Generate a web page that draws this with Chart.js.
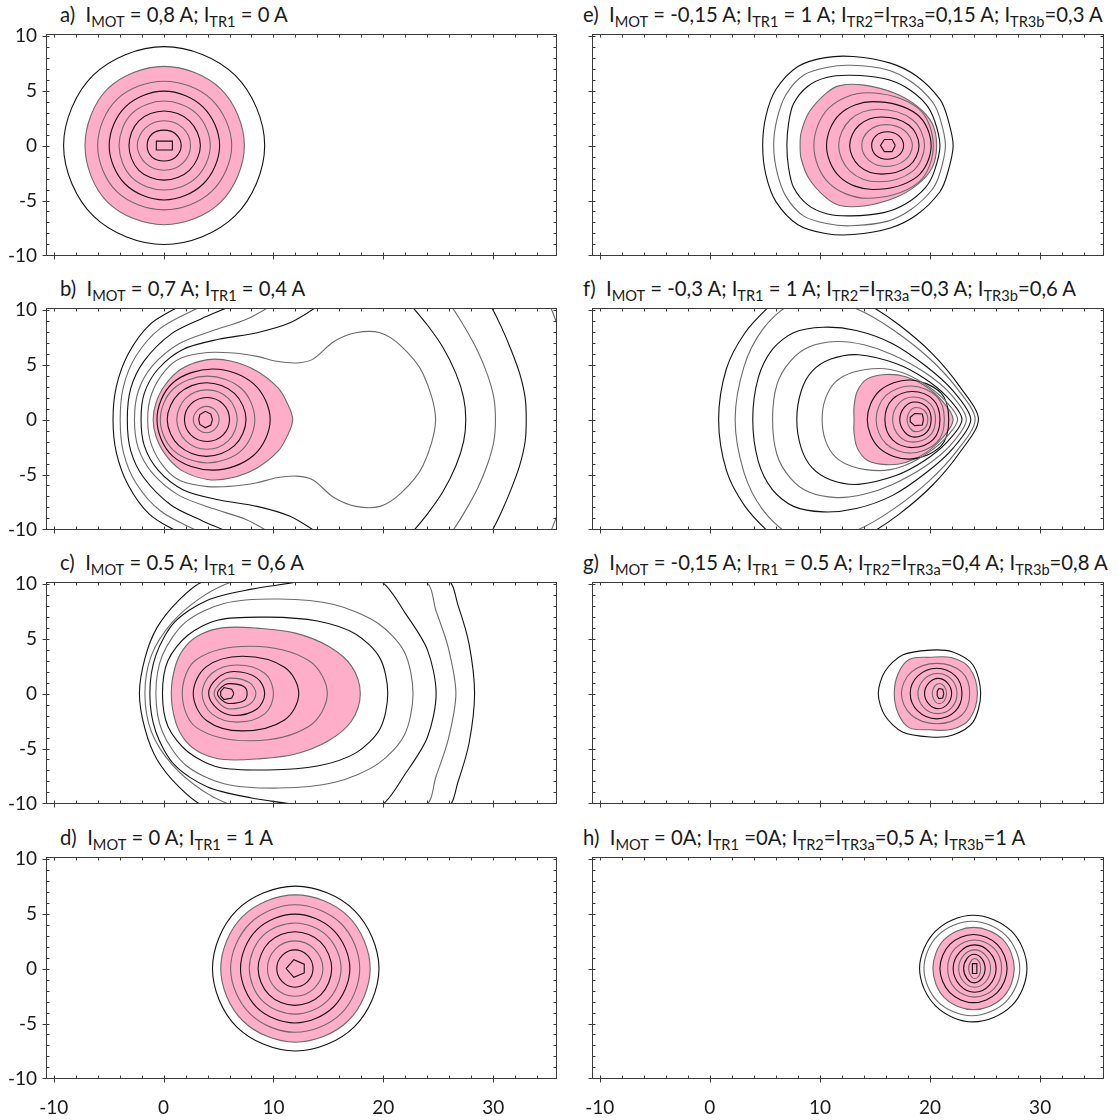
<!DOCTYPE html>
<html>
<head>
<meta charset="utf-8">
<script src="https://cdn.jsdelivr.net/npm/chart.js@4.4.0/dist/chart.umd.min.js"></script>
<style>
    body { margin: 0; background: #fff; width: 1119px; height: 1120px; position: relative; overflow: hidden; font-family: Lato, sans-serif; }
    .title { position: absolute; font-size: 20.3px; line-height: 24px; white-space: nowrap; color: #1a1a1a; }
    .title sub { font-size: 0.72em; vertical-align: -0.32em; line-height: 0; }
    canvas { position: absolute; }
</style>
</head>
<body>
<div id="page"></div>
<script>
// axis ticks
const xRange = [-10.7, 35.8];
const yRange = [-10.05, 10.15];
const xTickValues = [-10, 0, 10, 20, 30];
const yTickValues = [-10, -5, 0, 5, 10];
const xMinorTicks = [-10, -8, -6, -4, -2, 0, 2, 4, 6, 8, 10, 12, 14, 16, 18, 20, 22, 24, 26, 28, 30, 32, 34];
const yMinorTicks = [-10, -9, -8, -7, -6, -5, -4, -3, -2, -1, 0, 1, 2, 3, 4, 5, 6, 7, 8, 9, 10];

// contours: upper half (y >= 0) of each level line, mirrored about y = 0
// a) I_MOT = 0,8 A
const aPink = [[7.35,0],[5.2,5.15],[0.05,7.2],[-5.1,5.15],[-7.15,0]];
const aLines = [
    [[9.2,0],[6.5,6.4],[0.05,9.0],[-6.4,6.4],[-9.1,0]],
    [[6.2,0],[4.35,4.2],[0.05,5.85],[-4.25,4.2],[-6.0,0]],
    [[5.1,0],[3.6,3.5],[0.05,4.95],[-3.5,3.5],[-4.95,0]],
    [[4.25,0],[3.0,2.9],[0.05,4.05],[-2.9,2.9],[-4.05,0]],
    [[3.35,0],[2.35,2.25],[0.05,3.15],[-2.25,2.25],[-3.15,0]],
    [[2.45,0],[1.75,1.6],[0.05,2.25],[-1.65,1.6],[-2.4,0]],
    [[1.6,0],[1.1,1.05],[0.05,1.4],[-1.05,1.05],[-1.5,0]]
];
const aCore = [[0.8,0],[0.8,0.4],[-0.66,0.4],[-0.66,0]];

// b) I_MOT = 0,7 A; I_TR1 = 0,4 A
const bPink = [[11.75,0],[11.2,1.6],[10.4,2.9],[8.5,4.4],[6.2,5.3],[4.0,5.45],[1.6,4.6],[0.1,3.1],[-0.7,1.5],[-0.95,0]];
const bLines = [
    [[-4.6,0],[-4.3,3.0],[-3.2,6.0],[-1.3,8.6],[1.4,10.3],[3.0,11.3]],
    [[-3.95,0],[-3.65,3.0],[-2.5,5.8],[-0.3,8.3],[3.4,10.3],[5.0,11.2]],
    [[-3.3,0],[-3.0,2.8],[-1.8,5.3],[0.7,7.8],[3.5,9.2],[6.0,10.3],[7.5,11.2]],
    [[-2.65,0],[-2.3,2.6],[-1.0,4.9],[1.4,6.9],[4.5,8.1],[7.5,9.1],[9.7,10.3],[11.0,11.2]],
    [[-2.05,0],[-1.75,2.4],[-0.5,4.6],[1.8,6.4],[5.0,7.3],[8.5,7.9],[11.5,8.8],[14.0,10.3],[15.5,11.5]],
    [[24.75,0],[23.6,4.2],[21.6,6.7],[19.7,7.9],[17.5,7.9],[15.5,7.1],[13.6,5.5],[12.1,5.15],[10.3,5.3],[8.5,5.75],[6.4,6.05],[4.0,6.1],[1.6,5.6],[0.1,4.4],[-1.1,2.3],[-1.45,0]],
    [[27.5,0],[27.3,2.0],[26.6,4.2],[25.4,6.6],[24.0,8.6],[22.6,10.3],[21.8,11.2]],
    [[30.2,0],[30.05,2.0],[29.5,4.0],[28.6,6.2],[27.4,8.4],[26.2,10.3],[25.5,11.2]],
    [[33.0,0],[32.9,2.0],[32.4,4.2],[31.6,6.4],[30.7,8.5],[29.8,10.3],[29.2,11.2]],
    [[37.2,0],[37.0,4.0],[36.2,7.5],[35.2,10.3],[34.7,11.5]],
    [[9.7,0],[8.2,3.25],[4.5,4.6],[0.8,3.3],[-0.6,0]],
    [[8.3,0],[7.1,2.8],[4.0,3.95],[0.9,2.8],[-0.3,0]],
    [[7.5,0],[6.45,2.38],[3.9,3.35],[1.4,2.38],[0.33,0]],
    [[6.7,0],[5.9,1.92],[3.95,2.7],[2.0,1.92],[1.2,0]],
    [[6.0,0],[5.4,1.42],[3.95,2.0],[2.5,1.42],[1.9,0]],
    [[5.05,0],[4.7,0.85],[3.9,1.2],[3.1,0.85],[2.7,0]]
];
const bCore = [[4.45,0],[4.3,0.5],[3.8,0.75],[3.3,0.45],[3.2,0]];

// c) I_MOT = 0.5 A; I_TR1 = 0,6 A
const cPink = [[17.9,0],[17.1,2.5],[15.0,4.3],[12.0,5.5],[8.5,5.95],[5.5,6.0],[3.4,5.4],[2.0,4.3],[1.1,2.6],[0.7,0]];
const cLines = [
    [[28.3,0],[27.8,4.5],[26.8,8.0],[25.8,10.4],[15.0,14.0],[3.6,10.2],[1.4,8.5],[-0.6,6.0],[-1.7,3.2],[-2.2,0]],
    [[26.6,0],[25.9,4.2],[24.8,7.5],[23.8,10.2],[14.0,12.5],[6.3,10.2],[3.5,8.8],[0.8,6.5],[-1.1,3.5],[-1.7,0]],
    [[24.8,0],[24.0,4.0],[22.0,7.3],[19.8,10.2],[16.0,11.2],[12.4,10.2],[8.0,9.5],[4.0,8.5],[1.0,6.5],[-0.7,3.5],[-1.25,0]],
    [[22.7,0],[21.9,3.8],[19.5,6.4],[15.5,8.1],[10.5,8.6],[5.5,8.2],[2.0,6.5],[-0.1,3.5],[-0.7,0]],
    [[20.4,0],[19.7,3.2],[17.5,5.4],[14.0,6.6],[9.5,6.95],[5.0,6.7],[2.2,5.3],[0.4,3.0],[-0.1,0]],
    [[14.9,0],[13.2,3.0],[8.0,4.3],[3.0,3.1],[1.7,0]],
    [[12.3,0],[11.0,2.4],[7.2,3.4],[3.9,2.45],[2.7,0]],
    [[10.0,0],[9.2,1.85],[6.7,2.6],[4.4,1.85],[3.5,0]],
    [[9.2,0],[8.5,1.4],[6.4,2.0],[4.9,1.4],[4.1,0]],
    [[8.4,0],[7.8,1.0],[6.1,1.4],[5.2,1.0],[4.6,0]],
    [[7.6,0],[7.3,0.65],[5.9,0.9],[5.3,0.6],[4.9,0]]
];
const cCore = [[6.4,0],[6.2,0.4],[5.5,0.55],[5.2,0.2],[5.2,0]];

// d) I_MOT = 0 A; I_TR1 = 1 A
const dPink = [[18.8,0],[16.8,4.75],[12.0,6.7],[7.2,4.75],[5.2,0]];
const dLines = [
    [[19.6,0],[17.35,5.3],[12.0,7.5],[6.65,5.3],[4.45,0]],
    [[17.85,0],[16.15,4.1],[11.95,5.8],[7.85,4.1],[6.1,0]],
    [[16.95,0],[15.45,3.5],[11.95,4.95],[8.45,3.5],[7.0,0]],
    [[16.15,0],[14.9,2.95],[11.95,4.15],[9.0,2.95],[7.8,0]],
    [[15.3,0],[14.3,2.4],[11.95,3.35],[9.6,2.4],[8.6,0]],
    [[14.5,0],[13.7,1.8],[11.95,2.52],[10.2,1.8],[9.45,0]],
    [[13.6,0],[13.1,1.2],[11.95,1.7],[10.8,1.2],[10.3,0]]
];
const dCore = [[12.8,0],[12.8,0.4],[11.85,0.8],[11.15,0]];

// e) I_MOT = -0,15 A; I_TR1 = 1 A; ...
const ePink = [[20.6,0],[20.2,2.0],[18.8,3.6],[16.7,4.8],[14.0,5.5],[11.8,5.45],[10.5,4.7],[9.0,3.0],[8.3,1.2],[8.2,0]];
const eLines = [
    [[22.1,0],[21.6,2.5],[20.9,4.2],[18.8,6.3],[16.4,7.5],[13.0,8.1],[10.5,8.0],[8.0,7.2],[6.0,5.1],[5.1,2.7],[4.8,0]],
    [[21.4,0],[20.9,2.5],[20.2,4.0],[18.3,5.8],[16.1,6.9],[12.8,7.3],[10.6,7.1],[8.5,6.4],[6.9,4.6],[6.1,2.4],[5.8,0]],
    [[20.9,0],[20.4,2.3],[19.6,3.8],[17.8,5.3],[15.8,6.1],[12.8,6.4],[10.6,6.2],[8.9,5.4],[7.6,3.8],[7.15,2.0],[7.0,0]],
    [[20.3,0],[18.9,3.4],[14.3,4.8],[10.8,3.4],[9.45,0]],
    [[20.1,0],[18.8,2.85],[14.8,4.0],[11.8,2.85],[10.6,0]],
    [[19.5,0],[18.4,2.35],[15.3,3.3],[12.75,2.35],[11.7,0]],
    [[19.0,0],[18.1,1.85],[15.6,2.6],[13.55,1.85],[12.7,0]],
    [[18.4,0],[17.7,1.35],[16.0,1.9],[14.45,1.35],[13.8,0]],
    [[17.6,0],[17.15,0.9],[16.1,1.25],[15.1,0.9],[14.7,0]]
];
const eCore = [[16.85,0],[16.55,0.55],[15.85,0.55],[15.5,0]];

// f) I_MOT = -0,3 A; I_TR1 = 1 A; ...
const fPink = [[22.1,0],[21.1,1.7],[19.5,3.1],[17.8,3.9],[16.0,4.1],[14.3,3.7],[13.4,2.6],[13.1,1.2],[13.1,0]];
const fLines = [
    [[24.4,0],[22.7,3.0],[20.2,6.0],[17.2,8.6],[14.2,10.6],[11.0,12.2],[7.5,12.0],[5.5,10.4],[3.2,7.9],[1.5,4.6],[0.8,0]],
    [[24.1,0],[22.4,2.9],[19.9,5.6],[16.6,8.2],[13.5,10.0],[10.0,10.9],[7.2,10.4],[4.8,8.2],[3.1,4.8],[2.3,0]],
    [[23.7,0],[22.1,2.6],[19.7,4.8],[16.6,6.9],[13.3,8.1],[10.3,8.4],[7.6,7.9],[5.7,6.4],[4.4,3.8],[3.9,0]],
    [[23.3,0],[21.8,2.4],[19.5,4.3],[16.6,5.9],[14.0,6.8],[11.5,7.1],[9.0,6.6],[7.3,5.3],[6.1,3.2],[5.7,0]],
    [[22.9,0],[21.5,2.1],[19.4,3.8],[16.9,5.1],[13.5,5.9],[11.0,5.5],[9.3,4.4],[8.3,2.6],[7.9,0]],
    [[22.5,0],[21.3,1.8],[19.4,3.3],[17.4,4.3],[15.4,4.65],[13.0,4.3],[11.4,3.4],[10.5,1.9],[10.2,0]],
    [[21.7,0],[21.0,2.4],[18.2,3.6],[15.4,2.6],[14.3,0]],
    [[21.3,0],[20.6,2.1],[18.3,3.05],[16.0,2.2],[15.1,0]],
    [[20.9,0],[20.3,1.8],[18.4,2.55],[16.6,1.85],[15.9,0]],
    [[20.5,0],[20.0,1.45],[18.5,2.05],[17.2,1.5],[16.6,0]],
    [[20.1,0],[19.7,1.15],[18.6,1.6],[17.7,1.15],[17.25,0]],
    [[19.8,0],[19.5,0.8],[18.7,1.1],[18.2,0.8],[17.9,0]]
];
const fCore = [[19.4,0],[19.3,0.5],[18.6,0.55],[18.2,0.2],[18.2,0]];

// g) I_MOT = -0,15 A; I_TR1 = 0.5 A; ...
const gPink = [[24.3,0],[23.6,2.3],[22.0,3.25],[20.0,3.3],[18.1,3.1],[17.1,1.8],[16.75,0]];
const gLines = [
    [[24.6,0],[23.9,2.6],[22.0,3.8],[20.0,3.95],[17.5,3.5],[15.9,2.0],[15.3,0]],
    [[23.6,0],[22.9,1.95],[20.6,2.75],[18.3,1.95],[17.4,0]],
    [[22.9,0],[22.3,1.6],[20.6,2.3],[18.9,1.6],[18.2,0]],
    [[22.45,0],[21.95,1.3],[20.7,1.83],[19.45,1.3],[18.9,0]],
    [[21.96,0],[21.6,0.95],[20.75,1.38],[19.9,0.97],[19.5,0]],
    [[21.5,0],[21.3,0.65],[20.85,0.92],[20.4,0.65],[20.2,0]]
];
const gCore = [[21.25,0],[21.15,0.4],[20.8,0.46],[20.65,0.2],[20.65,0]];

// h) I_MOT = 0A; I_TR1 = 0A; ...
const hPink = [[27.65,0],[26.6,2.65],[23.95,3.75],[21.3,2.65],[20.26,0]];
const hLines = [
    [[28.8,0],[27.4,3.4],[23.9,4.85],[20.5,3.4],[19.05,0]],
    [[28.15,0],[26.9,3.0],[23.8,4.3],[20.7,3.0],[19.45,0]],
    [[27.0,0],[26.1,2.2],[23.95,3.1],[21.8,2.2],[20.9,0]],
    [[26.5,0],[25.8,1.85],[24.05,2.6],[22.3,1.85],[21.6,0]],
    [[26.0,0],[25.4,1.5],[24.05,2.15],[22.7,1.5],[22.1,0]],
    [[25.5,0],[25.05,1.2],[24.05,1.7],[23.05,1.2],[22.6,0]],
    [[25.0,0],[24.7,0.9],[24.0,1.3],[23.35,0.9],[23.05,0]],
    [[24.6,0],[24.45,0.65],[24.05,0.92],[23.7,0.65],[23.5,0]]
];
const hCore = [[24.25,0],[24.25,0.45],[23.85,0.45],[23.85,0]];

const panels = [
    { col: 0, row: 0, pink: aPink, lines: aLines, core: aCore, title: 'a)&nbsp; I<sub>MOT</sub> = 0,8 A; I<sub>TR1</sub> = 0 A' },
    { col: 0, row: 1, pink: bPink, lines: bLines, core: bCore, title: 'b)&nbsp; I<sub>MOT</sub> = 0,7 A; I<sub>TR1</sub> = 0,4 A' },
    { col: 0, row: 2, pink: cPink, lines: cLines, core: cCore, title: 'c)&nbsp; I<sub>MOT</sub> = 0.5 A; I<sub>TR1</sub> = 0,6 A' },
    { col: 0, row: 3, pink: dPink, lines: dLines, core: dCore, title: 'd)&nbsp; I<sub>MOT</sub> = 0 A; I<sub>TR1</sub> = 1 A' },
    { col: 1, row: 0, pink: ePink, lines: eLines, core: eCore, title: 'e)&nbsp; I<sub>MOT</sub> = -0,15 A; I<sub>TR1</sub> = 1 A; I<sub>TR2</sub>=I<sub>TR3a</sub>=0,15 A; I<sub>TR3b</sub>=0,3 A' },
    { col: 1, row: 1, pink: fPink, lines: fLines, core: fCore, title: 'f)&nbsp; I<sub>MOT</sub> = -0,3 A; I<sub>TR1</sub> = 1 A; I<sub>TR2</sub>=I<sub>TR3a</sub>=0,3 A; I<sub>TR3b</sub>=0,6 A' },
    { col: 1, row: 2, pink: gPink, lines: gLines, core: gCore, title: 'g)&nbsp; I<sub>MOT</sub> = -0,15 A; I<sub>TR1</sub> = 0.5 A; I<sub>TR2</sub>=I<sub>TR3a</sub>=0,4 A; I<sub>TR3b</sub>=0,8 A' },
    { col: 1, row: 3, pink: hPink, lines: hLines, core: hCore, title: 'h)&nbsp; I<sub>MOT</sub> = 0A; I<sub>TR1</sub> =0A; I<sub>TR2</sub>=I<sub>TR3a</sub>=0,5 A; I<sub>TR3b</sub>=1 A' }
];

const PINK = '#ffaec9';
const LINE_COLORS = ['#111111', '#6a6a6a'];
const plotTops = [34, 308, 582, 857];
const plotH = 222;
const MARGIN = 14;

Chart.defaults.font.family = 'Lato, sans-serif';
Chart.defaults.color = '#1a1a1a';

// mirror the upper half about y = 0; closed loops get one extra point each end for a smooth join
function buildPath(upper) {
    const closed = upper.length > 2 && upper[upper.length - 1][1] === 0;
    const lower = upper.slice(1, closed ? -1 : undefined).reverse().map(p => [p[0], -p[1]]);
    let pts;
    if (closed) {
        const ring = upper.concat(lower);
        pts = [ring[ring.length - 1]].concat(ring, [ring[0], ring[1]]);
    } else {
        pts = lower.concat(upper);
    }
    return { data: pts.map(p => ({ x: p[0], y: p[1] })), closed: closed };
}

function makeDataset(upper, color, tension, extra) {
    const path = buildPath(upper);
    const n = path.data.length;
    const ds = {
        data: path.data,
        borderColor: color,
        borderWidth: 1.1,
        pointRadius: 0,
        tension: tension,
        fill: false,
        order: 0
    };
    if (path.closed) {
        ds.segment = {
            borderColor: ctx => (ctx.p0DataIndex === 0 || ctx.p1DataIndex === n - 1) ? 'rgba(0,0,0,0)' : undefined
        };
    }
    return Object.assign(ds, extra || {});
}

const frameTicks = {
    id: 'frameTicks',
    afterDatasetsDraw(chart) {
        const { ctx, chartArea: a, scales: { x, y } } = chart;
        const L = Math.round(a.left) + 0.5, R = Math.round(a.right) - 0.5;
        const T = Math.round(a.top) + 0.5, B = Math.round(a.bottom) - 0.5;
        ctx.save();
        ctx.strokeStyle = '#3a3a3a';
        ctx.lineWidth = 1;
        ctx.beginPath();
        xMinorTicks.forEach(v => {
            const px = Math.round(x.getPixelForValue(v)) + 0.5;
            ctx.moveTo(px, B); ctx.lineTo(px, B - 3);
            ctx.moveTo(px, T); ctx.lineTo(px, T + 3);
            if (xTickValues.includes(v)) { ctx.moveTo(px, B); ctx.lineTo(px, B + 4); }
        });
        yMinorTicks.forEach(v => {
            const py = Math.round(y.getPixelForValue(v)) + 0.5;
            ctx.moveTo(L, py); ctx.lineTo(L + 3, py);
            ctx.moveTo(R, py); ctx.lineTo(R - 3, py);
            if (yTickValues.includes(v)) { ctx.moveTo(L, py); ctx.lineTo(L - 4, py); }
        });
        ctx.stroke();
        ctx.strokeRect(L, T, R - L, B - T);
        ctx.restore();
    }
};

function noLabelPadding(s) {
    s.paddingTop = 0;
    s.paddingBottom = 0;
    s.paddingLeft = 0;
    s.paddingRight = 0;
}

const page = document.getElementById('page');

panels.forEach(p => {
    const left = p.col === 0 ? 0 : 560;
    const width = p.col === 0 ? 560 : 559;
    const yAxisW = p.col === 0 ? 46 : 32;
    const padRight = p.col === 0 ? 3 : 15;
    const bottomRow = p.row === 3;
    const top = plotTops[p.row] - MARGIN;
    const height = MARGIN + plotH + (bottomRow ? 36 : MARGIN);

    const title = document.createElement('div');
    title.className = 'title';
    title.style.left = (p.col === 0 ? 60 : 583) + 'px';
    title.style.top = (plotTops[p.row] - 32) + 'px';
    title.innerHTML = p.title;
    page.appendChild(title);

    const canvas = document.createElement('canvas');
    canvas.width = width;
    canvas.height = height;
    canvas.style.left = left + 'px';
    canvas.style.top = top + 'px';
    page.appendChild(canvas);

    const datasets = [];
    datasets.push(makeDataset(p.pink, '#6a6a6a', 0.35, { fill: 'shape', backgroundColor: PINK, order: 5 }));
    p.lines.forEach((c, i) => {
        datasets.push(makeDataset(c, LINE_COLORS[i % 2], c.length > 6 ? 0.3 : 0.35));
    });
    datasets.push(makeDataset(p.core, LINE_COLORS[0], 0));

    new Chart(canvas.getContext('2d'), {
        type: 'line',
        data: { datasets: datasets },
        options: {
            responsive: false,
            animation: false,
            events: [],
            devicePixelRatio: 1,
            layout: { padding: { top: MARGIN, bottom: bottomRow ? 0 : MARGIN, left: 0, right: padRight } },
            elements: { line: { capBezierPoints: false } },
            plugins: { legend: { display: false }, tooltip: { enabled: false } },
            scales: {
                x: {
                    type: 'linear',
                    min: xRange[0],
                    max: xRange[1],
                    grid: { display: false, drawTicks: false },
                    border: { display: false },
                    afterBuildTicks: s => { s.ticks = xTickValues.map(v => ({ value: v })); },
                    afterFit: s => { s.height = bottomRow ? 36 : 0; noLabelPadding(s); },
                    ticks: { display: bottomRow, padding: 17, font: { size: 19 }, color: '#1a1a1a', maxRotation: 0 }
                },
                y: {
                    type: 'linear',
                    min: yRange[0],
                    max: yRange[1],
                    grid: { display: false, drawTicks: false },
                    border: { display: false },
                    afterBuildTicks: s => { s.ticks = yTickValues.map(v => ({ value: v })); },
                    afterFit: s => { s.width = yAxisW; noLabelPadding(s); },
                    ticks: { display: p.col === 0, padding: 9, font: { size: 19 }, color: '#1a1a1a' }
                }
            }
        },
        plugins: [frameTicks]
    });
});
</script>
</body>
</html>
